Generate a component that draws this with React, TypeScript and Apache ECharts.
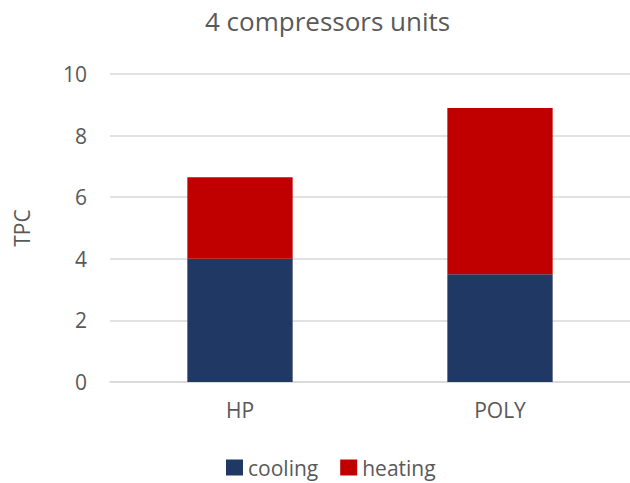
import React, { useEffect, useRef } from "react";
import * as echarts from "echarts";

const categories = ["HP", "POLY"];
const cooling = [4.0, 3.5];
const heating = [2.65, 5.4];
const yTicks = { min: 0, max: 10, interval: 2 };

export default function App() {
  const ref = useRef<HTMLDivElement>(null);
  useEffect(() => {
    if (!ref.current) return;
    const chart = echarts.init(ref.current, null, { renderer: "svg" });
    const font = "'Open Sans', 'Liberation Sans', sans-serif";
    chart.setOption({
      animation: false,
      textStyle: { fontFamily: font, color: "#595959" },
      title: {
        text: "4 compressors units",
        left: 200,
        top: 3,
        textStyle: { fontFamily: font, fontSize: 26, fontWeight: "normal", color: "#595959" },
      },
      grid: { left: 110, width: 526, top: 74, bottom: 101 },
      legend: {
        top: 452,
        left: 221,
        itemWidth: 17,
        itemHeight: 16,
        itemGap: 22,
        icon: "rect",
        textStyle: { fontFamily: font, fontSize: 21, color: "#595959" },
        data: ["cooling", "heating"],
      },
      xAxis: {
        type: "category",
        data: categories,
        axisLine: { show: true, lineStyle: { color: "#d9d9d9", width: 1.5 } },
        axisTick: { show: false },
        axisLabel: { fontFamily: font, fontSize: 21, color: "#595959", margin: 17 },
      },
      yAxis: {
        type: "value",
        min: yTicks.min,
        max: yTicks.max,
        interval: yTicks.interval,
        name: "TPC",
        nameLocation: "middle",
        nameGap: 78,
        nameRotate: 90,
        nameTextStyle: { fontFamily: font, fontSize: 21, color: "#595959" },
        axisLine: { show: false },
        axisTick: { show: false },
        axisLabel: { fontFamily: font, fontSize: 21, color: "#595959", margin: 23 },
        splitLine: { lineStyle: { color: "#d9d9d9", width: 1.5 } },
      },
      series: [
        {
          name: "cooling",
          type: "bar",
          stack: "total",
          data: cooling,
          barWidth: "40.5%",
          itemStyle: { color: "#1F3864" },
        },
        {
          name: "heating",
          type: "bar",
          stack: "total",
          data: heating,
          barWidth: "40.5%",
          itemStyle: { color: "#C00000" },
        },
      ],
    });
    return () => chart.dispose();
  }, []);
  return (
    <div
      ref={ref}
      style={{ position: "fixed", left: 0, top: 0, width: 630, height: 483, background: "#fff" }}
    />
  );
}
